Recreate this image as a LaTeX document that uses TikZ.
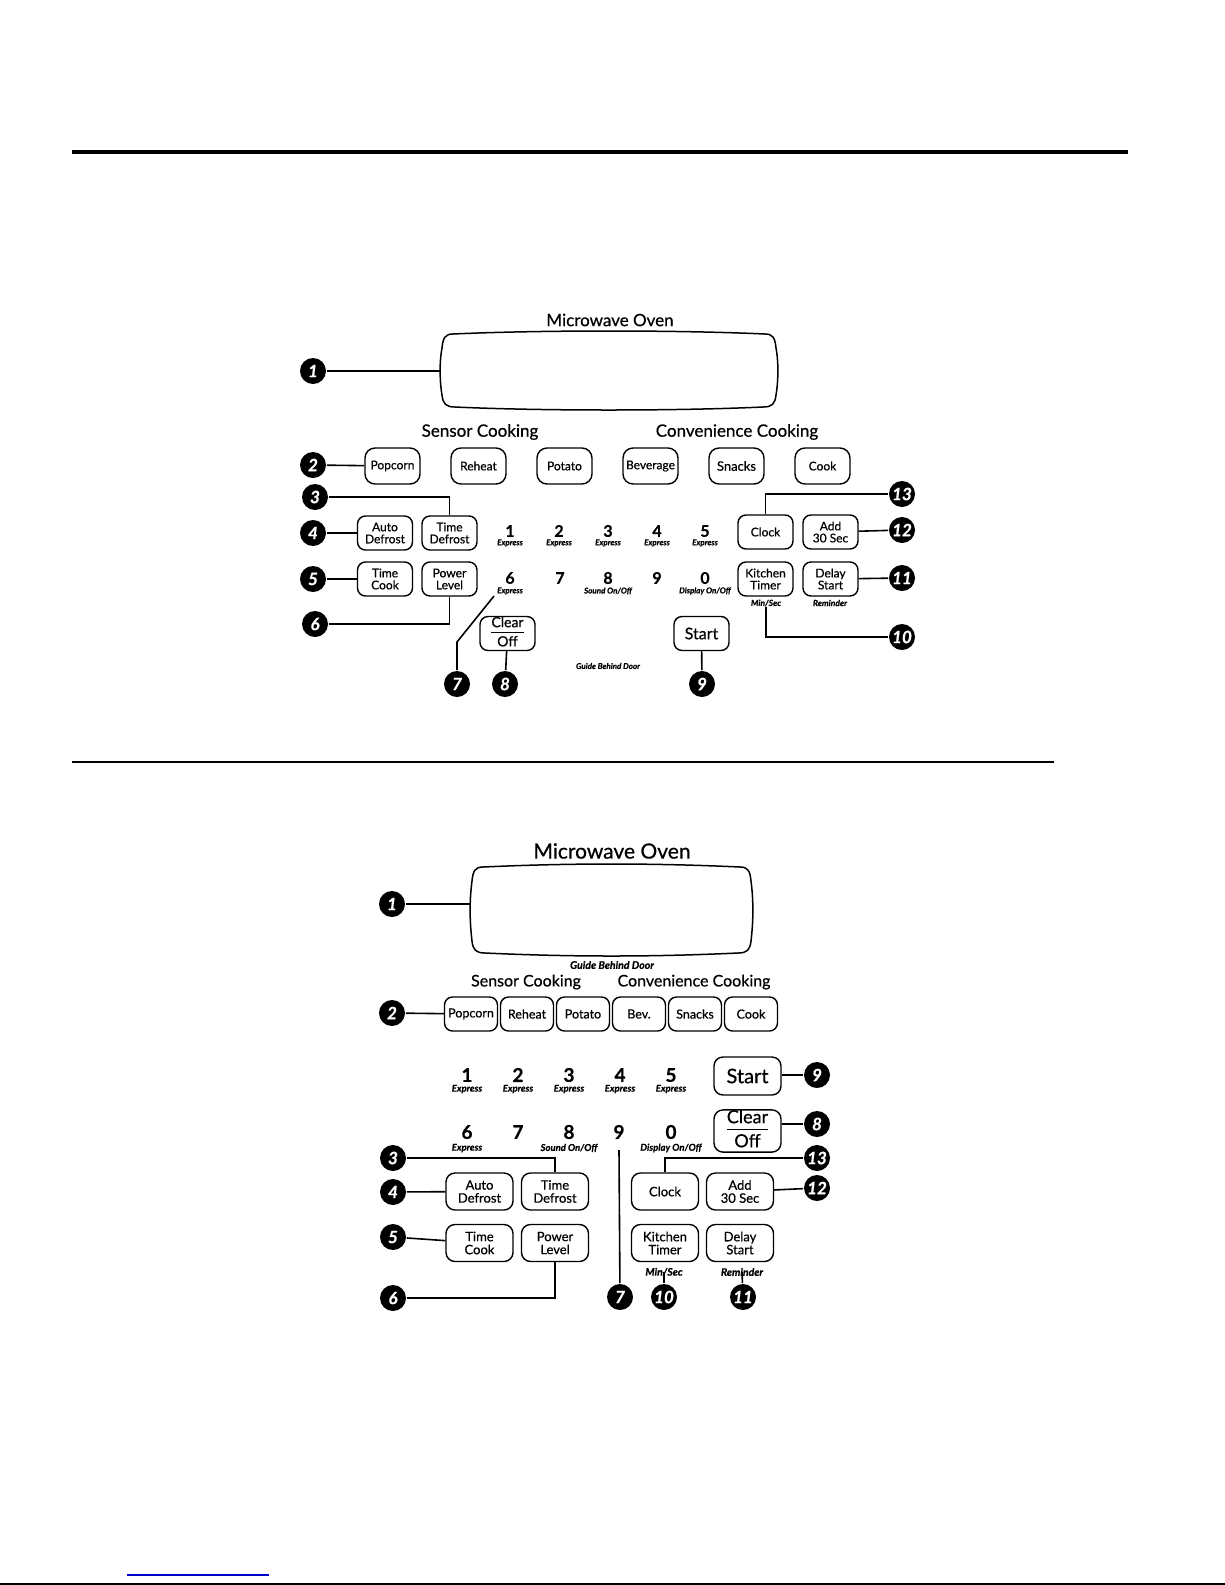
\documentclass[tikz,border=0pt]{standalone}
\usepackage{fontspec}
\setmainfont{Lato}[FakeBold=0.6]
\usetikzlibrary{positioning}
\newcommand{\fsz}[1]{\fontsize{#1}{#1}\selectfont}
\setlength{\arrayrulewidth}{1.1pt}
\newcommand{\clearoff}{\renewcommand{\arraystretch}{0.9}\begin{tabular}{@{}c@{}}Clear\\[1pt]\hline\rule{0pt}{0.95em}Off\end{tabular}}
% display window: left, top, right, bottom
\newcommand{\ovenscreen}[4]{%
  \draw[screen] ({#1+12},#2) .. controls ({#1+100},{#2-4}) and ({#3-100},{#2-4}) .. ({#3-12},#2)
    .. controls ({#3-4},#2) and ({#3-2},{#2+4}) .. ({#3-1},{#2+14})
    .. controls ({#3+1.5},{(#2+#4)/2-10}) and ({#3+1.5},{(#2+#4)/2+10}) .. ({#3-1},{#4-12})
    .. controls ({#3-2},{#4-3}) and ({#3-5},#4) .. ({#3-14},#4)
    .. controls ({#3-100},{#4+4}) and ({#1+100},{#4+4}) .. ({#1+14},#4)
    .. controls ({#1+5},#4) and ({#1+2},{#4-3}) .. ({#1+1},{#4-12})
    .. controls ({#1-1.5},{(#2+#4)/2+10}) and ({#1-1.5},{(#2+#4)/2-10}) .. ({#1+1},{#2+14})
    .. controls ({#1+2},{#2+4}) and ({#1+4},#2) .. cycle;}

\begin{document}
\begin{tikzpicture}[x=1pt,y=-1pt,line width=1.6pt]
    \tikzstyle{callout}=[circle,fill=black,minimum size=26pt,inner sep=0pt,text=white,font=\fsz{17}\bfseries\itshape]
    \tikzstyle{key}=[draw,rounded corners=8pt,line width=1.4pt,inner sep=0pt,align=center]
    \tikzstyle{small key}=[key,minimum width=55pt,minimum height=34pt,font=\fsz{12}]
    \tikzstyle{big key}=[key,minimum width=67pt,minimum height=37pt,rounded corners=9pt,font=\fsz{13}]
    \tikzstyle{digit}=[inner sep=0pt,font=\fsz{16}\bfseries]
    \tikzstyle{note}=[inner sep=0pt,font=\fsz{8}\bfseries\itshape]
    \tikzstyle{head}=[inner sep=0pt,font=\fsz{17}]
    \tikzstyle{screen}=[line width=1.5pt,line join=round]
    \useasboundingbox (0,0) rectangle (1225,1585);

    % rules of the page
    \draw[line width=4pt] (72,152) -- (1128,152);
    \draw[line width=2pt] (72,762) -- (1054,762);
    \draw[blue!80!black,line width=1.2pt] (127,1575) -- (269,1575);
    \draw[line width=1.5pt] (0,1584) -- (1225,1584);

    % ---------- upper panel ----------
    \node[head] (T-1) at (610,320) {Microwave Oven};
    \ovenscreen{441}{334}{777}{407}
    \coordinate (S-1) at (440,371);

    \node[head] (H-1) at (480,432) {Sensor Cooking};
    \node[head] (H-2) at (737,432) {Convenience Cooking};
    \foreach \lbl [count=\i] in {Popcorn,Reheat,Potato,Beverage,{\fsz{13}Snacks},Cook}
        \node[small key,minimum height=36pt,rounded corners=10pt] (A-\i) at ({392.5+86*(\i-1)},466) {\lbl};

    % number pad
    \foreach \d/\x in {1/510,2/559,3/608,4/657,5/705}
    {
        \node[digit] (N-\d) at (\x,531) {\d};
        \node[note] at (\x,543) {Express};
    }
    \foreach \d/\x in {6/510,7/560,8/608,9/657,0/705}
        \node[digit] (N-\d) at (\x,578) {\d};
    \node[note] (X-6) at (510,591) {Express};
    \node[note] (X-8) at (608,591) {Sound On/Off};
    \node[note] (X-0) at (705,591) {Display On/Off};

    \node[small key] (B-1) at (385,533) {Auto\\Defrost};
    \node[small key] (B-2) at (449.5,533) {Time\\Defrost};
    \node[small key] (B-3) at (765.5,532) {Clock};
    \node[small key] (B-4) at (830.5,532) {Add\\30 Sec};
    \node[small key] (C-1) at (385,579) {Time\\Cook};
    \node[small key] (C-2) at (449.5,579) {Power\\Level};
    \node[small key] (C-3) at (765.5,579) {Kitchen\\Timer};
    \node[small key] (C-4) at (830.5,579) {Delay\\Start};
    \node[note,font=\fsz{8.5}\bfseries\itshape] (M-1) at (766,603) {Min/Sec};
    \node[note,font=\fsz{8.5}\bfseries\itshape] (M-2) at (830,603) {Reminder};
    \node[small key,font=\fsz{14}] (K-1) at (507.5,633.5) {\clearoff};
    \node[small key,font=\fsz{16}] (K-2) at (701.5,633.5) {Start};
    \node[note] (G-1) at (608,666) {Guide Behind Door};

    % callouts
    \foreach \n/\x/\y in {1/313/371,2/313/465,3/315/497,4/313/533,5/313/579,6/315/624,7/457/684,
                          8/505/684,9/702/684,10/902/637,11/902/578,12/902/530,13/902/494}
        \node[callout] (L-\n) at (\x,\y) {\n};
    \coordinate (k7) at (457,642);
    \coordinate (k7b) at (494,596);

    \draw (L-1) -- (S-1);
    \draw (L-2) -- (A-1);
    \draw (L-3) -| (B-2);
    \draw (L-4) -- (B-1);
    \draw (L-5) -- (C-1);
    \draw (L-6) -| (C-2);
    \draw (L-7) -- (k7) -- (k7b);
    \draw (L-8) -- (K-1);
    \draw (L-9) -- (K-2);
    \draw (L-10) -| (M-1);
    \draw (L-11) -- (C-4);
    \draw (L-12) -- (B-4);
    \draw (L-13) -| (B-3);

    % ---------- lower panel ----------
    \node[head,font=\fsz{21}] (T-2) at (612,851) {Microwave Oven};
    \ovenscreen{471}{867}{752}{953}
    \coordinate (S-2) at (470,904);
    \node[note,font=\fsz{10.5}\bfseries\itshape] (G-2) at (612,965) {Guide Behind Door};

    \node[head,font=\fsz{16}] (H-3) at (526,982) {Sensor Cooking};
    \node[head,font=\fsz{16}] (H-4) at (694,982) {Convenience Cooking};
    \foreach \lbl [count=\i] in {Popcorn,Reheat,Potato,Bev.,Snacks,Cook}
        \node[big key,minimum width=53pt,minimum height=34pt,rounded corners=8pt,font=\fsz{12.5}] (E-\i) at ({471+56*(\i-1)},1014) {\lbl};

    % number pad
    \foreach \d/\x in {1/467,2/518,3/569,4/620,5/671}
    {
        \node[digit,font=\fsz{19}\bfseries] (D-\d) at (\x,1075) {\d};
        \node[note,font=\fsz{9.5}\bfseries\itshape] at (\x,1089) {Express};
    }
    \foreach \d/\x in {6/467,7/518,8/569,9/619,0/671}
        \node[digit,font=\fsz{19}\bfseries] (D-\d) at (\x,1132) {\d};
    \node[note,font=\fsz{9.5}\bfseries\itshape] (Y-6) at (467,1148) {Express};
    \node[note,font=\fsz{9.5}\bfseries\itshape] (Y-8) at (569,1148) {Sound On/Off};
    \node[note,font=\fsz{9.5}\bfseries\itshape] (Y-0) at (671,1148) {Display On/Off};

    \node[big key,minimum height=38pt,font=\fsz{20}] (Q-1) at (747.5,1076) {Start};
    \node[big key,minimum height=38pt,font=\fsz{18}] (Q-2) at (747.5,1131) {\clearoff};
    \node[big key] (F-1) at (479.5,1191.5) {Auto\\Defrost};
    \node[big key] (F-2) at (555,1191.5) {Time\\Defrost};
    \node[big key] (F-3) at (665,1191.5) {Clock};
    \node[big key] (F-4) at (740,1191.5) {Add\\30 Sec};
    \node[big key] (J-1) at (479.5,1243) {Time\\Cook};
    \node[big key] (J-2) at (555,1243) {Power\\Level};
    \node[big key] (J-3) at (665,1243) {Kitchen\\Timer};
    \node[big key] (J-4) at (740,1243) {Delay\\Start};
    \node[note,font=\fsz{10.5}\bfseries\itshape] (M-3) at (664,1272) {Min/Sec};
    \node[note,font=\fsz{10.5}\bfseries\itshape] (M-4) at (742,1272) {Reminder};

    % callouts
    \foreach \n/\x/\y in {1/392/904,2/392/1013,3/393/1158,4/393/1192,5/393/1237,6/393/1298,7/620/1297,
                          8/817/1124,9/817/1075,10/664/1297,11/743/1297,12/817/1188,13/817/1158}
        \node[callout] (P-\n) at (\x,\y) {\n};
    \coordinate (k9) at (619,1150);

    \draw (P-1) -- (S-2);
    \draw (P-2) -- (E-1);
    \draw (P-3) -| (F-2);
    \draw (P-4) -- (F-1);
    \draw (P-5) -- (J-1);
    \draw (P-6) -| (J-2);
    \draw (P-7) -- (k9);
    \draw (P-8) -- (P-8 -| Q-2.east);
    \draw (P-9) -- (P-9 -| Q-1.east);
    \draw (P-10) -- (M-3.center);
    \draw (P-11) -- (M-4.center);
    \draw (P-12) -- (F-4);
    \draw (P-13) -| (F-3);
\end{tikzpicture}
\end{document}
